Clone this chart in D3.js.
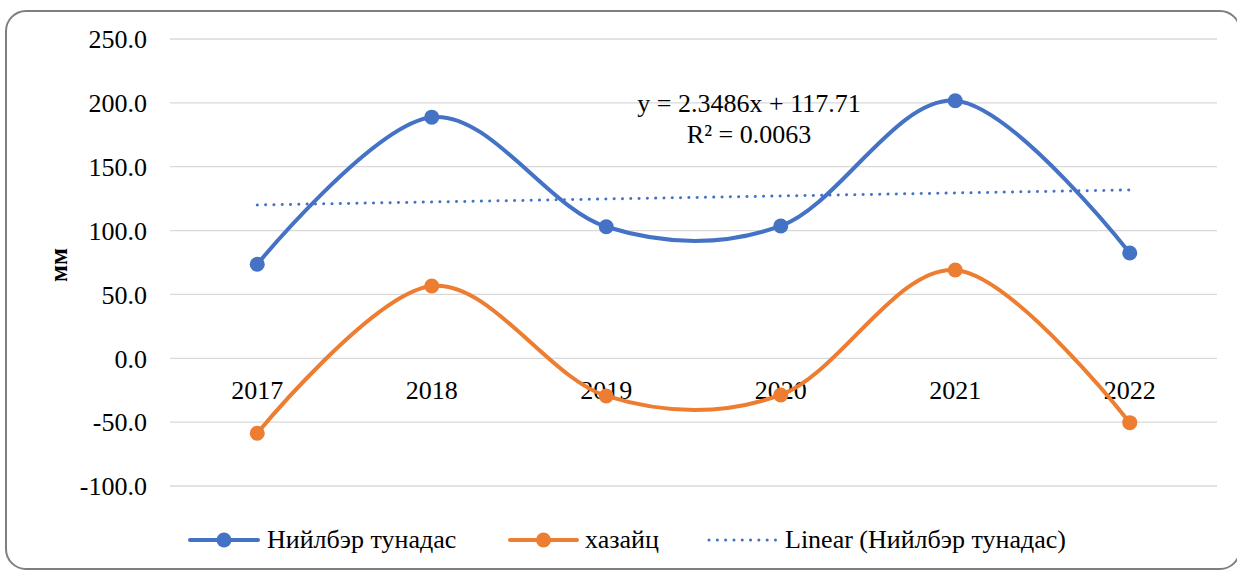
<!DOCTYPE html>
<html>
<head>
<meta charset="utf-8">
<script src="https://cdn.jsdelivr.net/npm/d3@7"></script>
<style>
  html, body { margin: 0; padding: 0; background: #fff; }
  svg { display: block; font-family: "Liberation Serif", "Times New Roman", serif; }
</style>
</head>
<body>
<svg id="chart" width="1237" height="572"></svg>
<script>
// ---- data ----
const years = ["2017", "2018", "2019", "2020", "2021", "2022"];
const precipitation = [73.6, 188.8, 103.0, 103.6, 201.7, 82.4];   // Нийлбэр тунадас
const deviation = [-58.7, 56.6, -29.5, -28.7, 69.1, -50.4];       // хазайц
const trendCoef = [2.3486, 117.71];                               // slope, intercept
const yTicks = [-100, -50, 0, 50, 100, 150, 200, 250];
const seriesNames = ["Нийлбэр тунадас", "хазайц", "Linear (Нийлбэр тунадас)"];
const equationLines = ["y = 2.3486x + 117.71", "R² = 0.0063"];
const yAxisTitle = "мм";

const blue = "#4472C4", orange = "#ED7D31";
const FS = 26;
const svg = d3.select("#chart");

// frame
svg.append("rect").attr("x", 6).attr("y", 11).attr("width", 1234).attr("height", 558)
  .attr("rx", 20).attr("fill", "#fff").attr("stroke", "#7f7f7f").attr("stroke-width", 2);

const x = d3.scaleBand().domain(years).range([170, 1217]).padding(0);
const cx = d => x(d) + x.bandwidth() / 2;
const y = d3.scaleLinear().domain([-100, 250]).range([486, 39]);

// gridlines
svg.append("g").selectAll("line").data(yTicks).join("line")
  .attr("x1", 170).attr("x2", 1217)
  .attr("y1", d => y(d)).attr("y2", d => y(d))
  .attr("stroke", "#d9d9d9").attr("stroke-width", 1.3);

// y tick labels via axis
const yAxis = svg.append("g").attr("transform", "translate(147,0)")
  .call(d3.axisLeft(y).tickValues(yTicks).tickFormat(d => d.toFixed(1)).tickSize(0).tickPadding(0));
yAxis.attr("font-family", "Liberation Serif").attr("font-size", FS);
yAxis.select(".domain").remove();
yAxis.selectAll("text").attr("fill", "#000").attr("dy", "0.34em");

// y title
svg.append("text").attr("transform", `translate(67,${y(73)}) rotate(-90)`)
  .attr("text-anchor", "middle").attr("font-size", 25).attr("font-weight", "bold")
  .attr("fill", "#000").text(yAxisTitle);

// category labels
svg.append("g").selectAll("text").data(years).join("text")
  .attr("x", d => cx(d)).attr("y", 399).attr("text-anchor", "middle")
  .attr("font-size", FS).attr("fill", "#000").text(d => d);

// lines
const line = d3.line().x((d, i) => cx(years[i])).y(d => y(d)).curve(d3.curveCatmullRom.alpha(0));
function drawSeries(vals, color) {
  svg.append("path").datum(vals).attr("d", line).attr("fill", "none")
    .attr("stroke", color).attr("stroke-width", 4).attr("stroke-linecap", "round");
  svg.append("g").selectAll("circle").data(vals).join("circle")
    .attr("cx", (d, i) => cx(years[i])).attr("cy", d => y(d)).attr("r", 7.5).attr("fill", color);
}
drawSeries(precipitation, blue);
drawSeries(deviation, orange);

// trendline
const trendPts = years.map((yr, i) => [cx(yr), y(trendCoef[0] * (i + 1) + trendCoef[1])]);
svg.append("path").attr("d", d3.line()([trendPts[0], trendPts[trendPts.length - 1]]))
  .attr("fill", "none").attr("stroke", blue).attr("stroke-width", 3)
  .attr("stroke-linecap", "round").attr("stroke-dasharray", "0.1 8.2");

// equation
const eq = svg.append("text").attr("text-anchor", "middle").attr("font-size", FS).attr("fill", "#000");
equationLines.forEach((t, i) => eq.append("tspan").attr("x", 749).attr("y", 112 + i * 31).text(t));

// legend
const ly = 540;
function legendLine(x1, x2, color, marker, dotted) {
  const p = svg.append("line").attr("x1", x1).attr("x2", x2).attr("y1", ly).attr("y2", ly)
    .attr("stroke", color).attr("stroke-linecap", "round");
  if (dotted) p.attr("stroke-width", 3).attr("stroke-dasharray", "0.1 8.2");
  else p.attr("stroke-width", 4);
  if (marker) svg.append("circle").attr("cx", (x1 + x2) / 2).attr("cy", ly).attr("r", 7.5).attr("fill", color);
}
legendLine(190, 258, blue, true, false);
legendLine(510, 577, orange, true, false);
legendLine(709, 778, blue, false, true);
const lt = [[267, seriesNames[0]], [585, seriesNames[1]], [785, seriesNames[2]]];
svg.append("g").selectAll("text").data(lt).join("text")
  .attr("x", d => d[0]).attr("y", ly + 8).attr("font-size", FS).attr("fill", "#000").text(d => d[1]);
</script>
</body>
</html>
